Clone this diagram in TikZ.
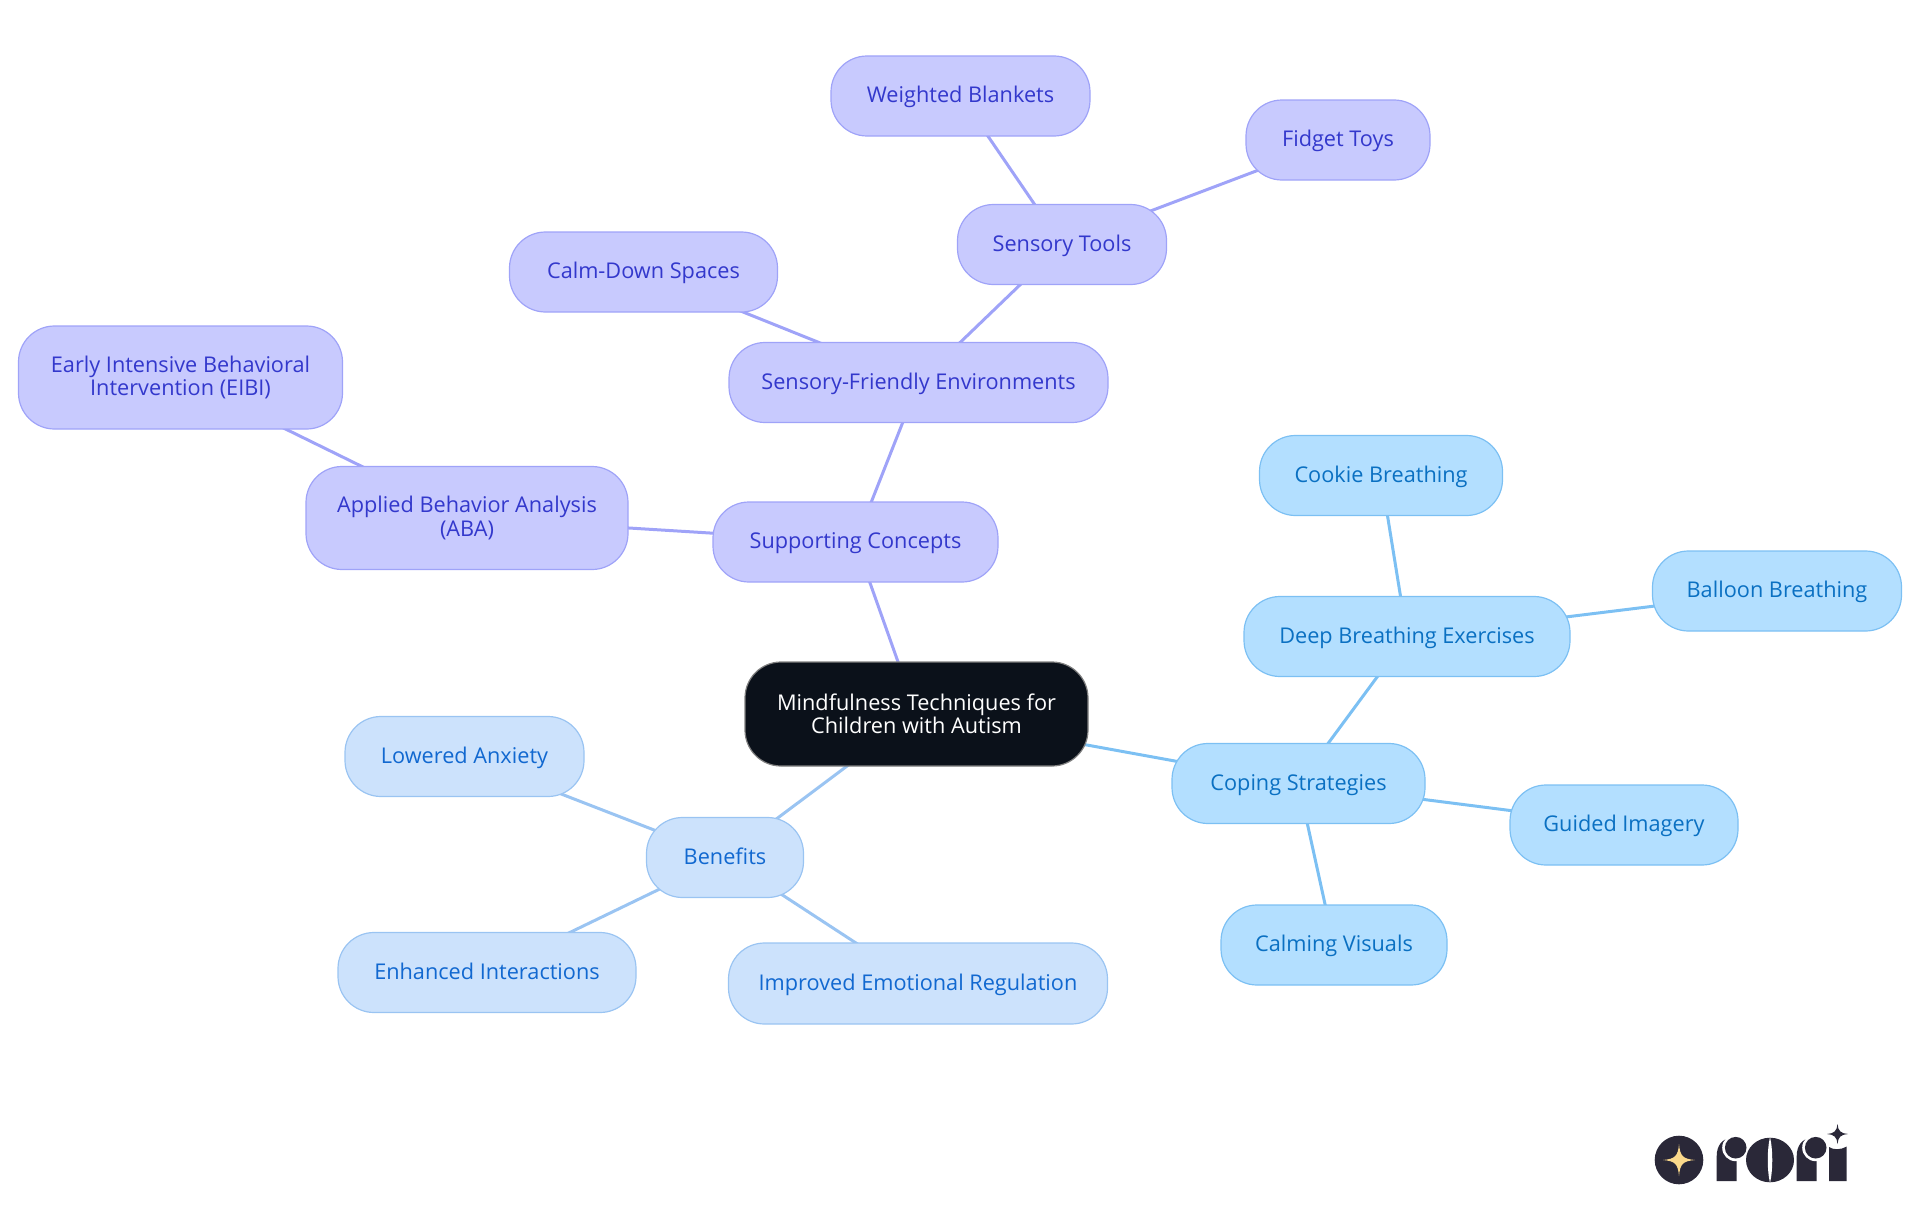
\documentclass[tikz,border=0pt]{standalone}
\usepackage{fontspec}
\setmainfont{Open Sans}
\usetikzlibrary{backgrounds}
\definecolor{violetfill}{HTML}{C8CAFE}
\definecolor{violetline}{HTML}{9FA3F8}
\definecolor{violettext}{HTML}{3338CC}
\definecolor{bluefill}{HTML}{B3DFFF}
\definecolor{blueline}{HTML}{7CC0F3}
\definecolor{bluetext}{HTML}{0A70C2}
\definecolor{paleblue}{HTML}{CCE2FC}
\definecolor{paleline}{HTML}{9AC4F2}
\definecolor{paletext}{HTML}{1168D0}
\definecolor{rootfill}{HTML}{0B111A}
\definecolor{logoink}{HTML}{2A2838}
\definecolor{logostar}{HTML}{FBD98B}
\tikzset{
 item/.style={draw,rounded corners=36pt,line width=1.2pt,inner sep=0pt,align=center,
   font=\fontsize{21.7}{23.5}\selectfont},
 oneline/.style={text height=17pt,text depth=4pt},
 root/.style={item,fill=rootfill,draw=gray,text=white},
 violetbox/.style={item,fill=violetfill,draw=violetline,text=violettext},
 bluebox/.style={item,fill=bluefill,draw=blueline,text=bluetext},
 palebox/.style={item,fill=paleblue,draw=paleline,text=paletext},
 violetedge/.style={violetline,line width=3pt},
 blueedge/.style={blueline,line width=3pt},
 paleedge/.style={paleline,line width=3pt}
}
\begin{document}
\begin{tikzpicture}[x=1pt,y=-1pt]
 \useasboundingbox (0,0) rectangle (1920,1215);
 \node[root,minimum width=343pt,minimum height=104pt] (mindful) at (916.5,714) {Mindfulness Techniques for\\Children with Autism};
 \node[violetbox,oneline,minimum width=285pt,minimum height=80pt] (concepts) at (855.5,542) {Supporting Concepts};
 \node[violetbox,oneline,minimum width=379pt,minimum height=80pt] (environments) at (918.5,382.5) {Sensory-Friendly Environments};
 \node[violetbox,oneline,minimum width=209pt,minimum height=80pt] (tools) at (1062,244.5) {Sensory Tools};
 \node[violetbox,oneline,minimum width=259pt,minimum height=80pt] (blankets) at (960.5,96) {Weighted Blankets};
 \node[violetbox,oneline,minimum width=184pt,minimum height=80pt] (fidget) at (1338,140) {Fidget Toys};
 \node[violetbox,oneline,minimum width=268pt,minimum height=80pt] (calmdown) at (643.5,272) {Calm-Down Spaces};
 \node[violetbox,minimum width=322pt,minimum height=103pt] (aba) at (467,518) {Applied Behavior Analysis\\(ABA)};
 \node[violetbox,minimum width=324pt,minimum height=103pt] (eibi) at (180.5,377.5) {Early Intensive Behavioral\\Intervention (EIBI)};
 \node[bluebox,oneline,minimum width=253pt,minimum height=80pt] (coping) at (1298.5,783.5) {Coping Strategies};
 \node[bluebox,oneline,minimum width=326pt,minimum height=80pt] (breathing) at (1407,636.5) {Deep Breathing Exercises};
 \node[bluebox,oneline,minimum width=243pt,minimum height=80pt] (cookie) at (1381,475.5) {Cookie Breathing};
 \node[bluebox,oneline,minimum width=249pt,minimum height=80pt] (balloon) at (1777,591) {Balloon Breathing};
 \node[bluebox,oneline,minimum width=228pt,minimum height=80pt] (imagery) at (1624,825) {Guided Imagery};
 \node[bluebox,oneline,minimum width=226pt,minimum height=80pt] (visuals) at (1334,945) {Calming Visuals};
 \node[palebox,oneline,minimum width=157pt,minimum height=80pt] (benefits) at (725,857.5) {Benefits};
 \node[palebox,oneline,minimum width=239pt,minimum height=80pt] (anxiety) at (464.5,756.5) {Lowered Anxiety};
 \node[palebox,oneline,minimum width=298pt,minimum height=80pt] (interactions) at (487,972.5) {Enhanced Interactions};
 \node[palebox,oneline,minimum width=379pt,minimum height=81pt] (regulation) at (918,983.5) {Improved Emotional Regulation};
 \begin{scope}[on background layer]
  \draw[violetedge] (mindful.center)--(concepts.center);
  \draw[violetedge] (concepts.center)--(environments.center);
  \draw[violetedge] (concepts.center)--(aba.center);
  \draw[violetedge] (aba.center)--(eibi.center);
  \draw[violetedge] (environments.center)--(tools.center);
  \draw[violetedge] (environments.center)--(calmdown.center);
  \draw[violetedge] (tools.center)--(blankets.center);
  \draw[violetedge] (tools.center)--(fidget.center);
  \draw[blueedge] (mindful.center)--(coping.center);
  \draw[blueedge] (coping.center)--(breathing.center);
  \draw[blueedge] (coping.center)--(imagery.center);
  \draw[blueedge] (coping.center)--(visuals.center);
  \draw[blueedge] (breathing.center)--(cookie.center);
  \draw[blueedge] (breathing.center)--(balloon.center);
  \draw[paleedge] (mindful.center)--(benefits.center);
  \draw[paleedge] (benefits.center)--(anxiety.center);
  \draw[paleedge] (benefits.center)--(interactions.center);
  \draw[paleedge] (benefits.center)--(regulation.center);
 \end{scope}
 % logo
 \fill[logoink] (1679,1160) circle (24.3);
 \fill[logostar] (1679,1144) .. controls (1680,1156) and (1683,1159) .. (1695,1160) .. controls (1683,1161) and (1680,1164) .. (1679,1176) .. controls (1678,1164) and (1675,1161) .. (1663,1160) .. controls (1675,1159) and (1678,1156) .. (1679,1144) -- cycle;
 \foreach \dx in {0,80}{
  \fill[logoink] (1716.7+\dx,1181)--(1716.7+\dx,1156) .. controls (1716.7+\dx,1146) and (1722+\dx,1138) .. (1732+\dx,1138)--(1736.7+\dx,1138)--(1736.7+\dx,1181)--cycle;
  \fill[white] (1735.7+\dx,1147.7) circle (13.5);
  \fill[logoink] (1735.7+\dx,1147.7) circle (10.8);
 }
 \fill[logoink] (1770,1160) ellipse (24 and 22.3);
 \fill[white] (1770,1137) .. controls (1767,1150) and (1767,1170) .. (1770,1183) .. controls (1773,1170) and (1773,1150) .. (1770,1137) -- cycle;
 \fill[logoink] (1829,1181)--(1829,1147) .. controls (1833,1150) and (1841,1150) .. (1846.7,1146.5)--(1846.7,1181)--cycle;
 \fill[logoink] (1837.5,1124) .. controls (1838,1131) and (1841,1133.5) .. (1848,1134) .. controls (1841,1134.5) and (1838,1137) .. (1837.5,1144) .. controls (1837,1137) and (1834,1134.5) .. (1827,1134) .. controls (1834,1133.5) and (1837,1131) .. (1837.5,1124) -- cycle;
\end{tikzpicture}
\end{document}
